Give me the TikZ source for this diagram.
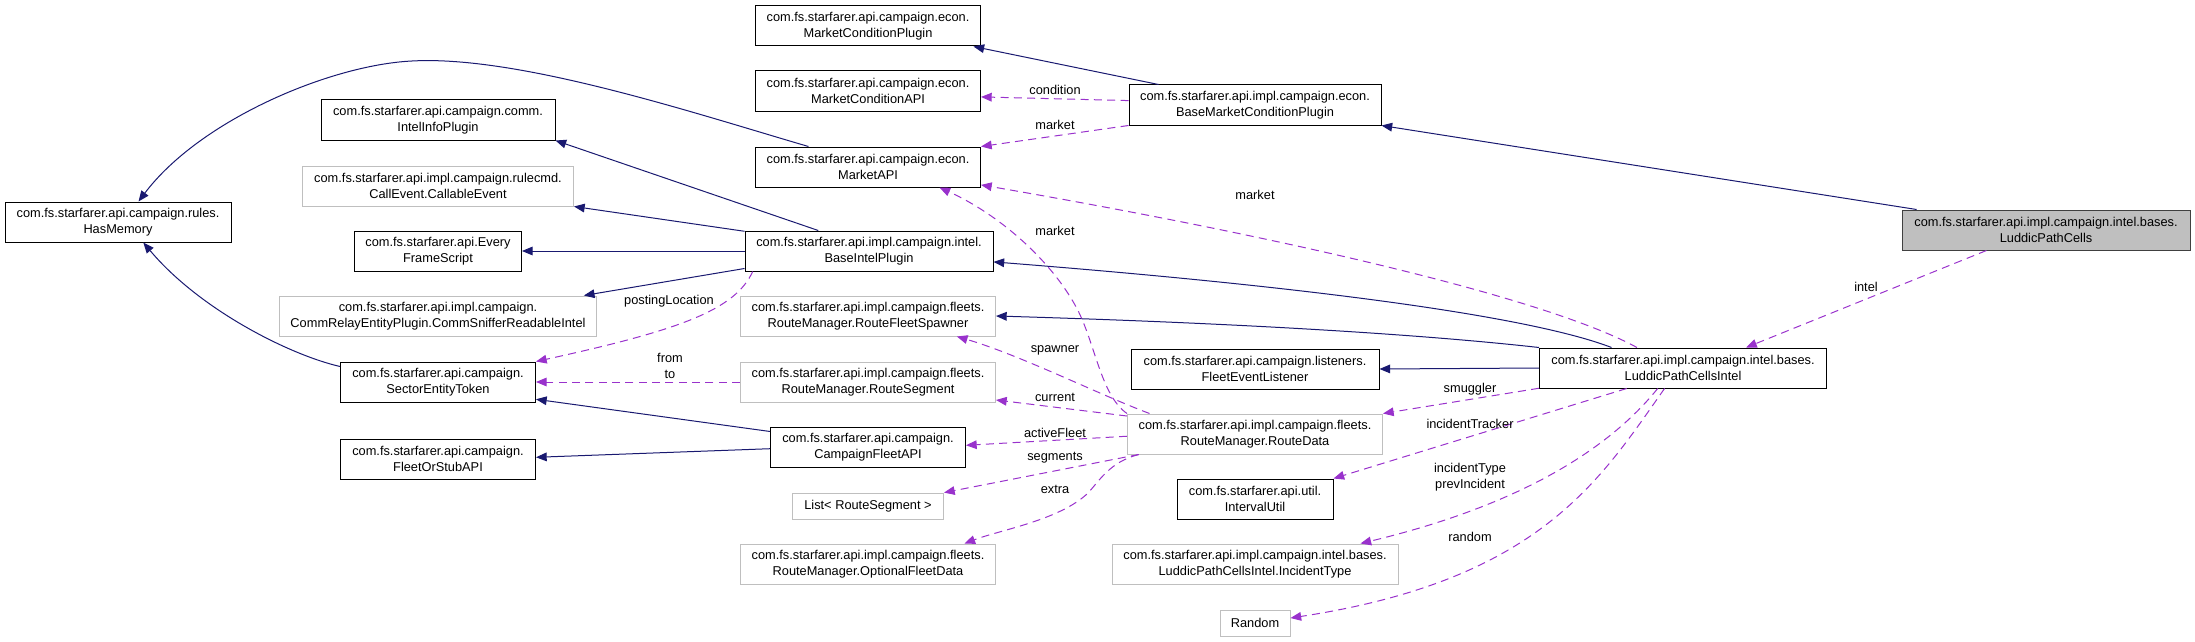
\documentclass[tikz,border=0pt]{standalone}
\usepackage{fontspec}
\setmainfont{Liberation Sans}
\usepackage{xcolor}
\definecolor{cNavy}{RGB}{25,25,112}
\definecolor{cOrchid}{RGB}{153,50,204}
\definecolor{cFrame}{RGB}{191,191,191}
\definecolor{cMain}{RGB}{191,191,191}
\definecolor{cMainEdge}{RGB}{64,64,64}
\usetikzlibrary{arrows.meta}

\begin{document}
\begin{tikzpicture}[x=0.75pt, y=-0.75pt, font=\fontsize{9.6}{11.8}\selectfont, line width=0.75pt,
    cls/.style={draw=black, line width=0.75pt, align=center, inner sep=1pt, minimum height=30pt},
    ext/.style={cls, draw=cFrame},
    lbl/.style={align=center, inner sep=0pt},
    inh/.style={cNavy, -{Triangle[length=8pt,width=6.5pt]}},
    use/.style={cOrchid, dash pattern=on 6pt off 4pt, -{Triangle[length=8pt,width=6.5pt]}}]
    \useasboundingbox (0,0) rectangle (2195,642);

    % ---------- left column ----------
    \node[cls, minimum width=169.5pt] (hasMemory) at (118,222) {com.fs.starfarer.api.campaign.rules.\\HasMemory};
    \node[cls, minimum width=175.5pt] (intelInfo) at (438,120) {com.fs.starfarer.api.campaign.comm.\\IntelInfoPlugin};
    \node[ext, minimum width=203.25pt] (callable) at (438,186) {com.fs.starfarer.api.impl.campaign.rulecmd.\\CallEvent.CallableEvent};
    \node[cls, minimum width=125.25pt] (everyFrame) at (438,251) {com.fs.starfarer.api.Every\\FrameScript};
    \node[ext, minimum width=237.75pt] (commSniffer) at (438,316) {com.fs.starfarer.api.impl.campaign.\\CommRelayEntityPlugin.CommSnifferReadableIntel};
    \node[cls, minimum width=146.25pt] (sectorToken) at (438,382) {com.fs.starfarer.api.campaign.\\SectorEntityToken};
    \node[cls, minimum width=146.25pt] (fleetOrStub) at (438,459) {com.fs.starfarer.api.campaign.\\FleetOrStubAPI};

    % ---------- middle column ----------
    \node[cls, minimum width=168.75pt] (mktCondPlugin) at (868,26) {com.fs.starfarer.api.campaign.econ.\\MarketConditionPlugin};
    \node[cls, minimum width=168.75pt] (mktCondAPI) at (868,91) {com.fs.starfarer.api.campaign.econ.\\MarketConditionAPI};
    \node[cls, minimum width=168.75pt] (marketAPI) at (868,167) {com.fs.starfarer.api.campaign.econ.\\MarketAPI};
    \node[cls, minimum width=186pt] (baseIntel) at (869,251) {com.fs.starfarer.api.impl.campaign.intel.\\BaseIntelPlugin};
    \node[ext, minimum width=191.25pt] (fleetSpawner) at (868,316) {com.fs.starfarer.api.impl.campaign.fleets.\\RouteManager.RouteFleetSpawner};
    \node[ext, minimum width=191.25pt] (routeSegment) at (868,382) {com.fs.starfarer.api.impl.campaign.fleets.\\RouteManager.RouteSegment};
    \node[cls, minimum width=146.25pt] (campaignFleet) at (868,447) {com.fs.starfarer.api.campaign.\\CampaignFleetAPI};
    \node[ext, minimum width=113.25pt, minimum height=19.5pt] (segList) at (868,506) {List< RouteSegment >};
    \node[ext, minimum width=191.25pt] (optionalData) at (868,564) {com.fs.starfarer.api.impl.campaign.fleets.\\RouteManager.OptionalFleetData};

    % ---------- right column ----------
    \node[cls, minimum width=189pt] (baseMktCond) at (1255,105) {com.fs.starfarer.api.impl.campaign.econ.\\BaseMarketConditionPlugin};
    \node[cls, minimum width=186pt] (fleetListener) at (1255,369) {com.fs.starfarer.api.campaign.listeners.\\FleetEventListener};
    \node[ext, minimum width=191.25pt] (routeData) at (1255,434) {com.fs.starfarer.api.impl.campaign.fleets.\\RouteManager.RouteData};
    \node[cls, minimum width=117pt] (intervalUtil) at (1255,499) {com.fs.starfarer.api.util.\\IntervalUtil};
    \node[ext, minimum width=214.5pt] (incidentType) at (1255,564) {com.fs.starfarer.api.impl.campaign.intel.bases.\\LuddicPathCellsIntel.IncidentType};
    \node[ext, minimum width=52.5pt, minimum height=19.5pt] (random) at (1255,623) {Random};
    \node[cls, minimum width=215.25pt] (cellsIntel) at (1683,368) {com.fs.starfarer.api.impl.campaign.intel.bases.\\LuddicPathCellsIntel};
    \node[cls, draw=cMainEdge, fill=cMain, minimum width=216pt] (cells) at (2046,230) {com.fs.starfarer.api.impl.campaign.intel.bases.\\LuddicPathCells};

    % ---------- inheritance ----------
    \draw[inh] (marketAPI.161.8) .. controls (700,115) and (520,55) .. (412,61) .. controls (330,65) and (200,120) .. (hasMemory.45);
    \draw[inh] (sectorToken.171.8) .. controls (290,355) and (200,310) .. (hasMemory.321.3);
    \draw[inh] (baseIntel.158.2) -- (intelInfo.south east);
    \draw[inh] (baseIntel.171.3) -- (callable.south east);
    \draw[inh] (baseIntel.west) -- (everyFrame.east);
    \draw[inh] (baseIntel.188.7) -- (commSniffer.8.4);
    \draw[inh] (baseMktCond.168.9) -- (mktCondPlugin.349.3);
    \draw[inh] (cells.171.05) -- (baseMktCond.south east);
    \draw[inh] (cellsIntel.164.5) .. controls (1540,320) and (1350,290) .. (baseIntel.355.4);
    \draw[inh] (cellsIntel.north west) .. controls (1400,332) and (1200,322) .. (fleetSpawner.east);
    \draw[inh] (cellsIntel.west) -- (fleetListener.east);
    \draw[inh] (campaignFleet.171.3) -- (sectorToken.350.7);
    \draw[inh] (campaignFleet.181.8) -- (fleetOrStub.1.8);

    % ---------- usage ----------
    \draw[use] (baseMktCond.178) -- (mktCondAPI.357.5);
    \draw[use] (baseMktCond.south west) -- (marketAPI.north east);
    \draw[use] (cellsIntel.156.4) .. controls (1550,300) and (1300,240) .. (marketAPI.351.9);
    \draw[use] (routeData.north west) .. controls (1100,395) and (1095,340) .. (1075,305) .. controls (1050,260) and (1000,215) .. (marketAPI.344.9);
    \draw[use] (baseIntel.190.3) .. controls (735,310) and (680,330) .. (sectorToken.north east);
    \draw[use] (routeSegment.west) -- (sectorToken.east);
    \draw[use] (routeData.169.4) .. controls (1100,395) and (1020,355) .. (fleetSpawner.347.6);
    \draw[use] (routeData.172.4) -- (routeSegment.352);
    \draw[use] (routeData.181.8) -- (campaignFleet.1.8);
    \draw[use] (routeData.190.4) -- (segList.10);
    \draw[use] (routeData.190.8) .. controls (1110,462) and (1100,480) .. (1088,493) .. controls (1060,520) and (1000,530) .. (optionalData.12.4);
    \draw[use] (cellsIntel.188.4) -- (routeData.north east);
    \draw[use] (cellsIntel.200.1) -- (intervalUtil.north east);
    \draw[use] (cellsIntel.219.4) .. controls (1600,460) and (1500,510) .. (incidentType.11.4);
    \draw[use] (cellsIntel.228.7) .. controls (1600,480) and (1540,580) .. (random.8.1);
    \draw[use] (cells.199.7) -- (cellsIntel.18.6);

    % ---------- labels ----------
    \node[lbl] (lCondition) at (1055,90) {condition};
    \node[lbl] (lMarketA) at (1055,125) {market};
    \node[lbl] (lMarketB) at (1255,195) {market};
    \node[lbl] (lMarketC) at (1055,231) {market};
    \node[lbl] (lPosting) at (669,301) {postingLocation};
    \node[lbl] (lFromTo) at (670,366) {from\\to};
    \node[lbl] (lSpawner) at (1055,350) {spawner};
    \node[lbl] (lCurrent) at (1055,397) {current};
    \node[lbl] (lActive) at (1055,433) {activeFleet};
    \node[lbl] (lSegments) at (1055,458) {segments};
    \node[lbl] (lExtra) at (1055,489) {extra};
    \node[lbl] (lIntel) at (1866,287) {intel};
    \node[lbl] (lSmuggler) at (1470,389) {smuggler};
    \node[lbl] (lTracker) at (1470,424) {incidentTracker};
    \node[lbl] (lIncident) at (1470,477) {incidentType\\prevIncident};
    \node[lbl] (lRandom) at (1470,537) {random};

\end{tikzpicture}
\end{document}
